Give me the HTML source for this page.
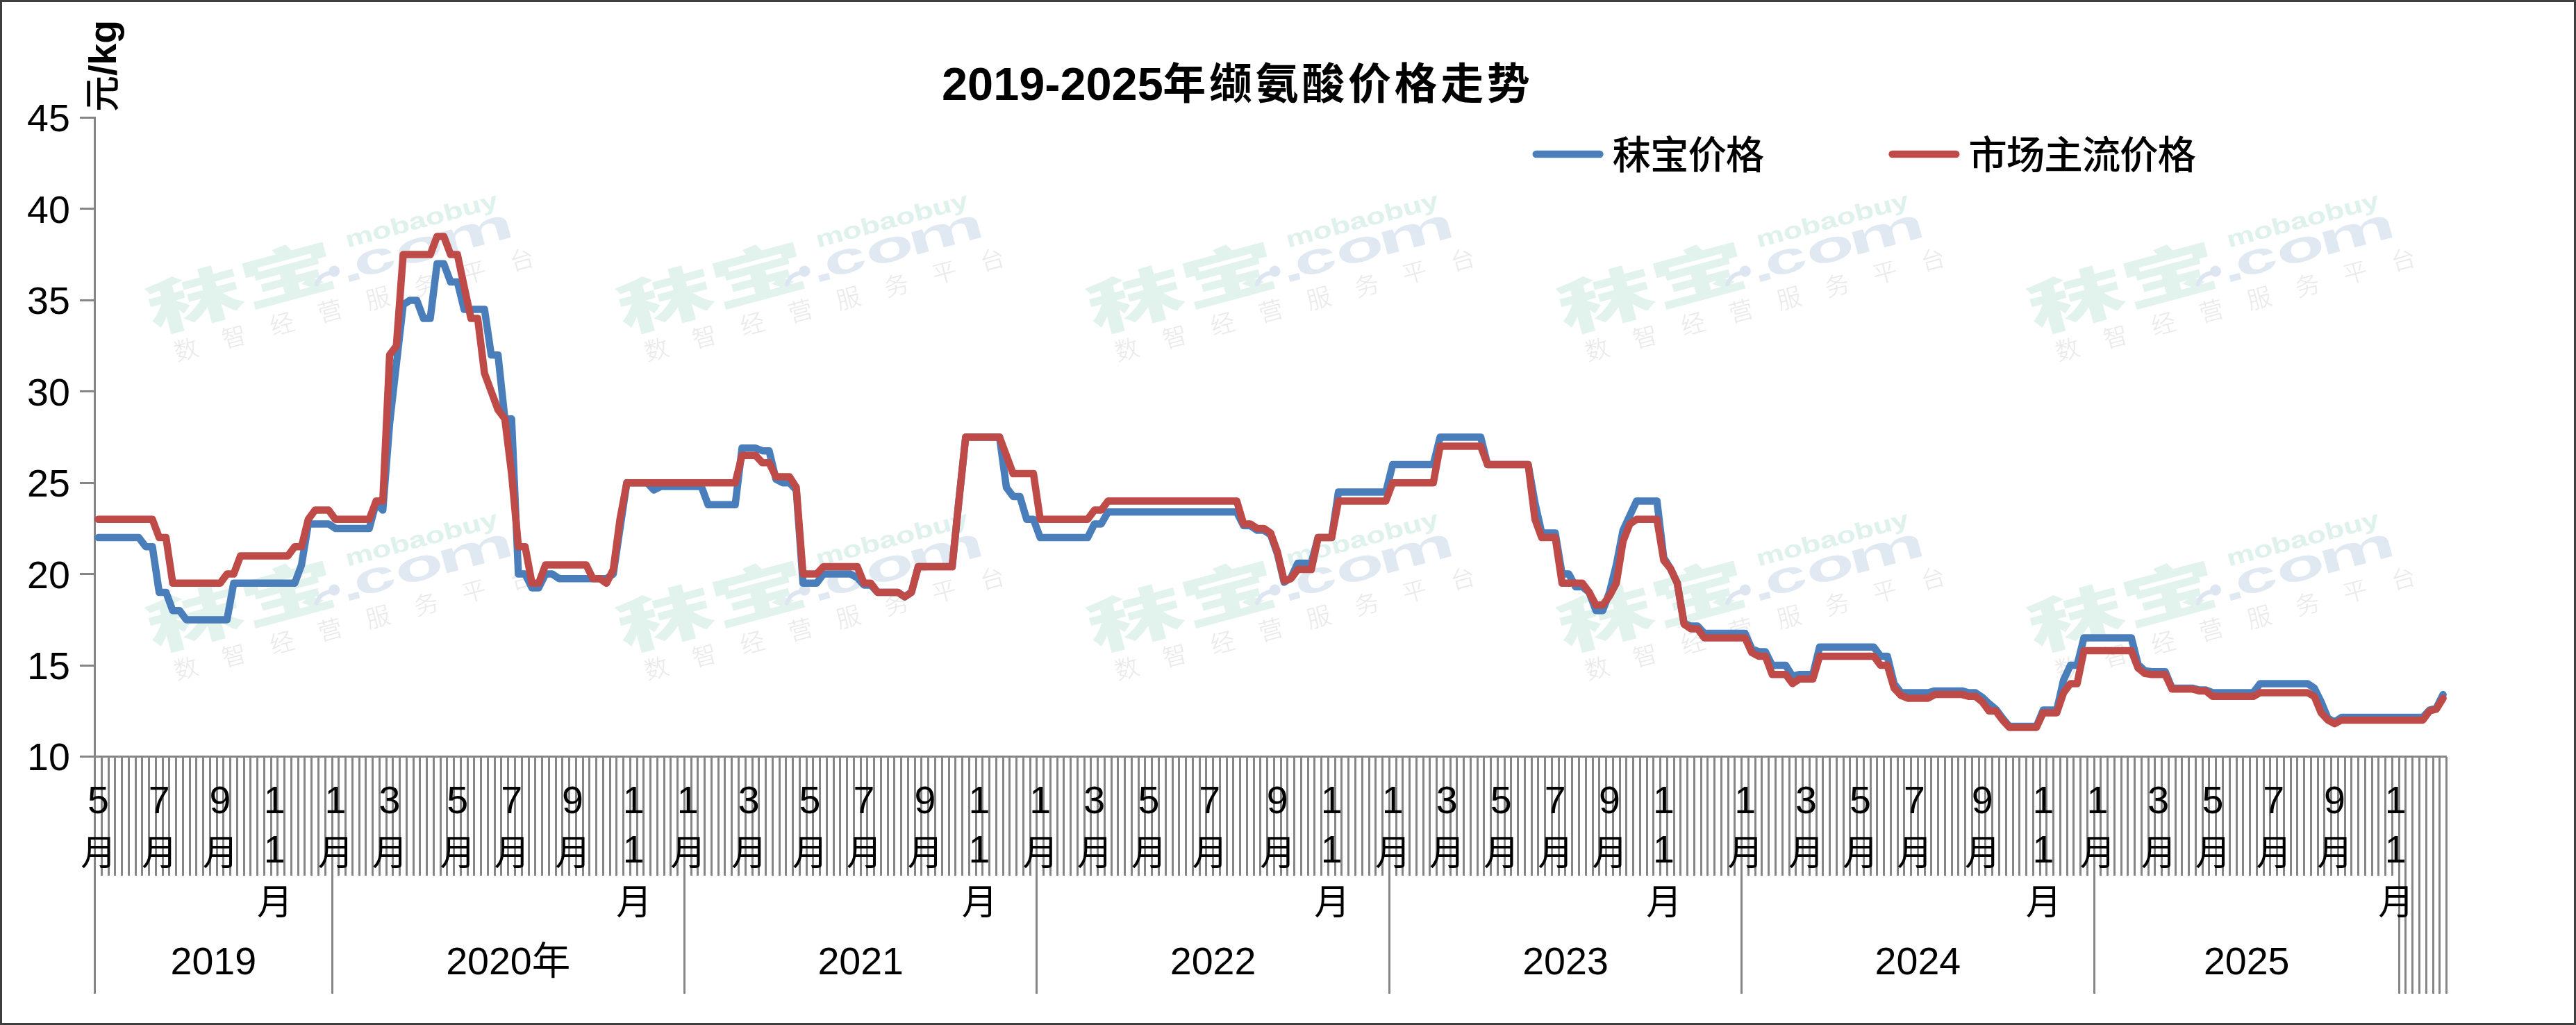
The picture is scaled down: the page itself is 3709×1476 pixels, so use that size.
<!DOCTYPE html>
<html lang="zh-CN">
<head>
<meta charset="utf-8">
<title>2019-2025年缬氨酸价格走势</title>
<style>
html,body{margin:0;padding:0;background:#fff;}
body{width:3709px;height:1476px;overflow:hidden;}
svg{display:block;}
text{white-space:pre;}
</style>
</head>
<body>
<svg width="3709" height="1476" viewBox="0 0 3709 1476">
<defs>
<g id="wmark">
 <text transform="translate(-8,225) scale(1.39,0.85)" font-size="100" font-weight="900" font-family='"Liberation Sans", "Noto Sans CJK SC", sans-serif' fill="#E2F3EE">秣宝</text>
 <circle cx="265.6" cy="206.4" r="8" fill="#DCE5F0"/>
 <path d="M236 218 Q246 204 262 208" stroke="#DCE5F0" stroke-width="6" fill="none" stroke-linecap="round"/>
 <text font-size="63" font-weight="bold" font-family='"Liberation Sans", sans-serif' fill="#E0E8F1"><tspan x="275.4" y="227" textLength="30.6" lengthAdjust="spacingAndGlyphs">.</tspan><tspan x="295.5" y="225" textLength="60.6" lengthAdjust="spacingAndGlyphs">c</tspan><tspan x="357.2" y="225" textLength="69.7" lengthAdjust="spacingAndGlyphs">o</tspan><tspan x="420" y="225" textLength="112" lengthAdjust="spacingAndGlyphs">m</tspan></text>
 <text x="293" y="178.7" font-size="33.5" font-weight="bold" font-family='"Liberation Sans", sans-serif' fill="#DEF1EC" textLength="226" lengthAdjust="spacingAndGlyphs">mobaobuy</text>
 <text y="273" font-size="35" font-weight="300" text-anchor="middle" font-family='"Liberation Sans", "Noto Sans CJK SC", sans-serif' fill="#E9E9E9"><tspan x="30.4">数</tspan><tspan x="101.9">智</tspan><tspan x="173.4">经</tspan><tspan x="244.9">营</tspan><tspan x="316.4">服</tspan><tspan x="387.9">务</tspan><tspan x="459.4">平</tspan><tspan x="530.9">台</tspan></text>
</g>
</defs>
<rect x="0" y="0" width="3709" height="1476" fill="#fff"/>
<g id="wm">
<use href="#wmark" transform="translate(171.2,260.0) rotate(-15)"/>
<use href="#wmark" transform="translate(848.4,260.0) rotate(-15)"/>
<use href="#wmark" transform="translate(1525.6,260.0) rotate(-15)"/>
<use href="#wmark" transform="translate(2202.8,260.0) rotate(-15)"/>
<use href="#wmark" transform="translate(2880.0,260.0) rotate(-15)"/>
<use href="#wmark" transform="translate(171.2,719.0) rotate(-15)"/>
<use href="#wmark" transform="translate(848.4,719.0) rotate(-15)"/>
<use href="#wmark" transform="translate(1525.6,719.0) rotate(-15)"/>
<use href="#wmark" transform="translate(2202.8,719.0) rotate(-15)"/>
<use href="#wmark" transform="translate(2880.0,719.0) rotate(-15)"/>
</g>
<g stroke="#868686" stroke-width="3" fill="none" shape-rendering="crispEdges">
<path d="M146.5 1090V1261.0M156.5 1090V1261.0M165.5 1090V1261.0M175.5 1090V1261.0M185.5 1090V1261.0M195.5 1090V1261.0M204.5 1090V1261.0M214.5 1090V1261.0M224.5 1090V1261.0M234.5 1090V1261.0M243.5 1090V1261.0M253.5 1090V1261.0M263.5 1090V1261.0M273.5 1090V1261.0M282.5 1090V1261.0M292.5 1090V1261.0M302.5 1090V1261.0M312.5 1090V1261.0M321.5 1090V1261.0M331.5 1090V1261.0M341.5 1090V1261.0M351.5 1090V1261.0M360.5 1090V1261.0M370.5 1090V1261.0M380.5 1090V1261.0M390.5 1090V1261.0M399.5 1090V1261.0M409.5 1090V1261.0M419.5 1090V1261.0M429.5 1090V1261.0M438.5 1090V1261.0M448.5 1090V1261.0M458.5 1090V1261.0M468.5 1090V1261.0M487.5 1090V1261.0M497.5 1090V1261.0M507.5 1090V1261.0M517.5 1090V1261.0M526.5 1090V1261.0M536.5 1090V1261.0M546.5 1090V1261.0M556.5 1090V1261.0M565.5 1090V1261.0M575.5 1090V1261.0M585.5 1090V1261.0M595.5 1090V1261.0M604.5 1090V1261.0M614.5 1090V1261.0M624.5 1090V1261.0M634.5 1090V1261.0M643.5 1090V1261.0M653.5 1090V1261.0M663.5 1090V1261.0M673.5 1090V1261.0M682.5 1090V1261.0M692.5 1090V1261.0M702.5 1090V1261.0M712.5 1090V1261.0M721.5 1090V1261.0M731.5 1090V1261.0M741.5 1090V1261.0M751.5 1090V1261.0M761.5 1090V1261.0M770.5 1090V1261.0M780.5 1090V1261.0M790.5 1090V1261.0M800.5 1090V1261.0M809.5 1090V1261.0M819.5 1090V1261.0M829.5 1090V1261.0M839.5 1090V1261.0M848.5 1090V1261.0M858.5 1090V1261.0M868.5 1090V1261.0M878.5 1090V1261.0M887.5 1090V1261.0M897.5 1090V1261.0M907.5 1090V1261.0M917.5 1090V1261.0M926.5 1090V1261.0M936.5 1090V1261.0M946.5 1090V1261.0M956.5 1090V1261.0M965.5 1090V1261.0M975.5 1090V1261.0M995.5 1090V1261.0M1004.5 1090V1261.0M1014.5 1090V1261.0M1024.5 1090V1261.0M1034.5 1090V1261.0M1043.5 1090V1261.0M1053.5 1090V1261.0M1063.5 1090V1261.0M1073.5 1090V1261.0M1083.5 1090V1261.0M1092.5 1090V1261.0M1102.5 1090V1261.0M1112.5 1090V1261.0M1122.5 1090V1261.0M1131.5 1090V1261.0M1141.5 1090V1261.0M1151.5 1090V1261.0M1161.5 1090V1261.0M1170.5 1090V1261.0M1180.5 1090V1261.0M1190.5 1090V1261.0M1200.5 1090V1261.0M1209.5 1090V1261.0M1219.5 1090V1261.0M1229.5 1090V1261.0M1239.5 1090V1261.0M1248.5 1090V1261.0M1258.5 1090V1261.0M1268.5 1090V1261.0M1278.5 1090V1261.0M1287.5 1090V1261.0M1297.5 1090V1261.0M1307.5 1090V1261.0M1317.5 1090V1261.0M1326.5 1090V1261.0M1336.5 1090V1261.0M1346.5 1090V1261.0M1356.5 1090V1261.0M1366.5 1090V1261.0M1375.5 1090V1261.0M1385.5 1090V1261.0M1395.5 1090V1261.0M1405.5 1090V1261.0M1414.5 1090V1261.0M1424.5 1090V1261.0M1434.5 1090V1261.0M1444.5 1090V1261.0M1453.5 1090V1261.0M1463.5 1090V1261.0M1473.5 1090V1261.0M1483.5 1090V1261.0M1502.5 1090V1261.0M1512.5 1090V1261.0M1522.5 1090V1261.0M1531.5 1090V1261.0M1541.5 1090V1261.0M1551.5 1090V1261.0M1561.5 1090V1261.0M1570.5 1090V1261.0M1580.5 1090V1261.0M1590.5 1090V1261.0M1600.5 1090V1261.0M1609.5 1090V1261.0M1619.5 1090V1261.0M1629.5 1090V1261.0M1639.5 1090V1261.0M1648.5 1090V1261.0M1658.5 1090V1261.0M1668.5 1090V1261.0M1678.5 1090V1261.0M1688.5 1090V1261.0M1697.5 1090V1261.0M1707.5 1090V1261.0M1717.5 1090V1261.0M1727.5 1090V1261.0M1736.5 1090V1261.0M1746.5 1090V1261.0M1756.5 1090V1261.0M1766.5 1090V1261.0M1775.5 1090V1261.0M1785.5 1090V1261.0M1795.5 1090V1261.0M1805.5 1090V1261.0M1814.5 1090V1261.0M1824.5 1090V1261.0M1834.5 1090V1261.0M1844.5 1090V1261.0M1853.5 1090V1261.0M1863.5 1090V1261.0M1873.5 1090V1261.0M1883.5 1090V1261.0M1892.5 1090V1261.0M1902.5 1090V1261.0M1912.5 1090V1261.0M1922.5 1090V1261.0M1931.5 1090V1261.0M1941.5 1090V1261.0M1951.5 1090V1261.0M1961.5 1090V1261.0M1971.5 1090V1261.0M1980.5 1090V1261.0M1990.5 1090V1261.0M2010.5 1090V1261.0M2019.5 1090V1261.0M2029.5 1090V1261.0M2039.5 1090V1261.0M2049.5 1090V1261.0M2058.5 1090V1261.0M2068.5 1090V1261.0M2078.5 1090V1261.0M2088.5 1090V1261.0M2097.5 1090V1261.0M2107.5 1090V1261.0M2117.5 1090V1261.0M2127.5 1090V1261.0M2136.5 1090V1261.0M2146.5 1090V1261.0M2156.5 1090V1261.0M2166.5 1090V1261.0M2175.5 1090V1261.0M2185.5 1090V1261.0M2195.5 1090V1261.0M2205.5 1090V1261.0M2214.5 1090V1261.0M2224.5 1090V1261.0M2234.5 1090V1261.0M2244.5 1090V1261.0M2253.5 1090V1261.0M2263.5 1090V1261.0M2273.5 1090V1261.0M2283.5 1090V1261.0M2293.5 1090V1261.0M2302.5 1090V1261.0M2312.5 1090V1261.0M2322.5 1090V1261.0M2332.5 1090V1261.0M2341.5 1090V1261.0M2351.5 1090V1261.0M2361.5 1090V1261.0M2371.5 1090V1261.0M2380.5 1090V1261.0M2390.5 1090V1261.0M2400.5 1090V1261.0M2410.5 1090V1261.0M2419.5 1090V1261.0M2429.5 1090V1261.0M2439.5 1090V1261.0M2449.5 1090V1261.0M2458.5 1090V1261.0M2468.5 1090V1261.0M2478.5 1090V1261.0M2488.5 1090V1261.0M2497.5 1090V1261.0M2517.5 1090V1261.0M2527.5 1090V1261.0M2536.5 1090V1261.0M2546.5 1090V1261.0M2556.5 1090V1261.0M2566.5 1090V1261.0M2576.5 1090V1261.0M2585.5 1090V1261.0M2595.5 1090V1261.0M2605.5 1090V1261.0M2615.5 1090V1261.0M2624.5 1090V1261.0M2634.5 1090V1261.0M2644.5 1090V1261.0M2654.5 1090V1261.0M2663.5 1090V1261.0M2673.5 1090V1261.0M2683.5 1090V1261.0M2693.5 1090V1261.0M2702.5 1090V1261.0M2712.5 1090V1261.0M2722.5 1090V1261.0M2732.5 1090V1261.0M2741.5 1090V1261.0M2751.5 1090V1261.0M2761.5 1090V1261.0M2771.5 1090V1261.0M2780.5 1090V1261.0M2790.5 1090V1261.0M2800.5 1090V1261.0M2810.5 1090V1261.0M2819.5 1090V1261.0M2829.5 1090V1261.0M2839.5 1090V1261.0M2849.5 1090V1261.0M2858.5 1090V1261.0M2868.5 1090V1261.0M2878.5 1090V1261.0M2888.5 1090V1261.0M2898.5 1090V1261.0M2907.5 1090V1261.0M2917.5 1090V1261.0M2927.5 1090V1261.0M2937.5 1090V1261.0M2946.5 1090V1261.0M2956.5 1090V1261.0M2966.5 1090V1261.0M2976.5 1090V1261.0M2985.5 1090V1261.0M2995.5 1090V1261.0M3005.5 1090V1261.0M3024.5 1090V1261.0M3034.5 1090V1261.0M3044.5 1090V1261.0M3054.5 1090V1261.0M3063.5 1090V1261.0M3073.5 1090V1261.0M3083.5 1090V1261.0M3093.5 1090V1261.0M3102.5 1090V1261.0M3112.5 1090V1261.0M3122.5 1090V1261.0M3132.5 1090V1261.0M3141.5 1090V1261.0M3151.5 1090V1261.0M3161.5 1090V1261.0M3171.5 1090V1261.0M3180.5 1090V1261.0M3190.5 1090V1261.0M3200.5 1090V1261.0M3210.5 1090V1261.0M3220.5 1090V1261.0M3229.5 1090V1261.0M3239.5 1090V1261.0M3249.5 1090V1261.0M3259.5 1090V1261.0M3268.5 1090V1261.0M3278.5 1090V1261.0M3288.5 1090V1261.0M3298.5 1090V1261.0M3307.5 1090V1261.0M3317.5 1090V1261.0M3327.5 1090V1261.0M3337.5 1090V1261.0M3346.5 1090V1261.0M3356.5 1090V1261.0M3366.5 1090V1261.0M3376.5 1090V1261.0M3385.5 1090V1261.0M3395.5 1090V1261.0M3405.5 1090V1261.0M3415.5 1090V1261.0M3424.5 1090V1261.0M3434.5 1090V1261.0M3444.5 1090V1261.0"/>
<path d="M136.5 1090V1431.0M478.5 1090V1431.0M985.5 1090V1431.0M1492.5 1090V1431.0M2000.5 1090V1431.0M2507.5 1090V1431.0M3015.5 1090V1431.0M3454.5 1090V1431.0M3463.5 1090V1431.0M3473.5 1090V1431.0M3483.5 1090V1431.0M3493.5 1090V1431.0M3503.5 1090V1431.0M3512.5 1090V1431.0M3522.5 1090V1431.0"/>
<path d="M136.5 168V1431.0"/>
<path d="M115 1089.5H3523"/>
<path d="M115 958.5H137"/>
<path d="M115 826.5H137"/>
<path d="M115 695.5H137"/>
<path d="M115 563.5H137"/>
<path d="M115 432.5H137"/>
<path d="M115 300.5H137"/>
<path d="M115 169.5H137"/>
</g>
<text x="100.9" y="1109.4" font-size="55.56" text-anchor="end" font-family='"Liberation Sans", "Noto Sans CJK SC", sans-serif' fill="#000">10</text>
<text x="100.9" y="978.0" font-size="55.56" text-anchor="end" font-family='"Liberation Sans", "Noto Sans CJK SC", sans-serif' fill="#000">15</text>
<text x="100.9" y="846.5" font-size="55.56" text-anchor="end" font-family='"Liberation Sans", "Noto Sans CJK SC", sans-serif' fill="#000">20</text>
<text x="100.9" y="715.1" font-size="55.56" text-anchor="end" font-family='"Liberation Sans", "Noto Sans CJK SC", sans-serif' fill="#000">25</text>
<text x="100.9" y="583.7" font-size="55.56" text-anchor="end" font-family='"Liberation Sans", "Noto Sans CJK SC", sans-serif' fill="#000">30</text>
<text x="100.9" y="452.3" font-size="55.56" text-anchor="end" font-family='"Liberation Sans", "Noto Sans CJK SC", sans-serif' fill="#000">35</text>
<text x="100.9" y="320.8" font-size="55.56" text-anchor="end" font-family='"Liberation Sans", "Noto Sans CJK SC", sans-serif' fill="#000">40</text>
<text x="100.9" y="189.4" font-size="55.56" text-anchor="end" font-family='"Liberation Sans", "Noto Sans CJK SC", sans-serif' fill="#000">45</text>
<polyline points="141.4,774.1 151.1,774.1 160.9,774.1 170.7,774.1 180.4,774.1 190.2,774.1 199.9,774.1 209.7,787.2 219.4,787.2 229.2,852.9 239.0,852.9 248.7,879.2 258.5,879.2 268.2,892.4 278.0,892.4 287.7,892.4 297.5,892.4 307.3,892.4 317.0,892.4 326.8,892.4 336.5,839.8 346.3,839.8 356.1,839.8 365.8,839.8 375.6,839.8 385.3,839.8 395.1,839.8 404.8,839.8 414.6,839.8 424.4,839.8 434.1,813.5 443.9,754.4 453.6,754.4 463.4,754.4 473.2,754.4 482.9,760.9 492.7,760.9 502.4,760.9 512.2,760.9 521.9,760.9 531.7,760.9 541.5,724.1 551.2,734.6 561.0,609.8 570.7,524.4 580.5,438.9 590.2,432.4 600.0,432.4 609.8,458.6 619.5,458.6 629.3,379.8 639.0,379.8 648.8,406.1 658.6,406.1 668.3,445.5 678.1,445.5 687.8,445.5 697.6,445.5 707.3,511.2 717.1,511.2 726.9,603.2 736.6,603.2 746.4,826.6 756.1,826.6 765.9,846.4 775.6,846.4 785.4,826.6 795.2,826.6 804.9,833.2 814.7,833.2 824.4,833.2 834.2,833.2 844.0,833.2 853.7,833.2 863.5,833.2 873.2,833.2 883.0,826.6 892.7,760.9 902.5,695.2 912.3,695.2 922.0,695.2 931.8,695.2 941.5,705.7 951.3,700.5 961.1,700.5 970.8,700.5 980.6,700.5 990.3,700.5 1000.1,700.5 1009.8,700.5 1019.6,726.8 1029.4,726.8 1039.1,726.8 1048.9,726.8 1058.6,726.8 1068.4,645.3 1078.1,645.3 1087.9,645.3 1097.7,649.2 1107.4,649.2 1117.2,690.0 1126.9,695.2 1136.7,695.2 1146.5,705.7 1156.2,839.8 1166.0,839.8 1175.7,839.8 1185.5,826.6 1195.2,826.6 1205.0,826.6 1214.8,826.6 1224.5,826.6 1234.3,831.9 1244.0,842.4 1253.8,842.4 1263.5,852.9 1273.3,852.9 1283.1,852.9 1292.8,852.9 1302.6,859.5 1312.3,852.9 1322.1,816.1 1331.9,816.1 1341.6,816.1 1351.4,816.1 1361.1,816.1 1370.9,816.1 1380.6,721.5 1390.4,629.5 1400.2,629.5 1409.9,629.5 1419.7,629.5 1429.4,629.5 1439.2,629.5 1449.0,701.8 1458.7,714.9 1468.5,714.9 1478.2,747.8 1488.0,747.8 1497.7,774.1 1507.5,774.1 1517.3,774.1 1527.0,774.1 1536.8,774.1 1546.5,774.1 1556.3,774.1 1566.0,774.1 1575.8,754.4 1585.6,754.4 1595.3,737.3 1605.1,737.3 1614.8,737.3 1624.6,737.3 1634.4,737.3 1644.1,737.3 1653.9,737.3 1663.6,737.3 1673.4,737.3 1683.1,737.3 1692.9,737.3 1702.7,737.3 1712.4,737.3 1722.2,737.3 1731.9,737.3 1741.7,737.3 1751.4,737.3 1761.2,737.3 1771.0,737.3 1780.7,737.3 1790.5,757.0 1800.2,757.0 1810.0,763.6 1819.8,763.6 1829.5,770.1 1839.3,797.7 1849.0,838.5 1858.8,831.9 1868.5,810.9 1878.3,810.9 1888.1,810.9 1897.8,774.1 1907.6,774.1 1917.3,774.1 1927.1,708.4 1936.9,708.4 1946.6,708.4 1956.4,708.4 1966.1,708.4 1975.9,708.4 1985.6,708.4 1995.4,708.4 2005.2,668.9 2014.9,668.9 2024.7,668.9 2034.4,668.9 2044.2,668.9 2053.9,668.9 2063.7,668.9 2073.5,629.5 2083.2,629.5 2093.0,629.5 2102.7,629.5 2112.5,629.5 2122.3,629.5 2132.0,629.5 2141.8,668.9 2151.5,668.9 2161.3,668.9 2171.0,668.9 2180.8,668.9 2190.6,668.9 2200.3,668.9 2210.1,724.1 2219.8,767.5 2229.6,767.5 2239.3,767.5 2249.1,826.6 2258.9,826.6 2268.6,845.0 2278.4,845.0 2288.1,852.9 2297.9,879.2 2307.7,879.2 2317.4,852.9 2327.2,813.5 2336.9,763.6 2346.7,742.5 2356.4,721.5 2366.2,721.5 2376.0,721.5 2385.7,721.5 2395.5,803.0 2405.2,818.8 2415.0,839.8 2424.8,897.6 2434.5,901.6 2444.3,901.6 2454.0,912.1 2463.8,912.1 2473.5,912.1 2483.3,912.1 2493.1,912.1 2502.8,912.1 2512.6,912.1 2522.3,934.4 2532.1,938.4 2541.8,938.4 2551.6,958.1 2561.4,958.1 2571.1,958.1 2580.9,973.8 2590.6,971.2 2600.4,971.2 2610.2,971.2 2619.9,931.8 2629.7,931.8 2639.4,931.8 2649.2,931.8 2658.9,931.8 2668.7,931.8 2678.5,931.8 2688.2,931.8 2698.0,931.8 2707.7,944.9 2717.5,944.9 2727.2,984.4 2737.0,997.5 2746.8,997.5 2756.5,997.5 2766.3,997.5 2776.0,997.5 2785.8,994.9 2795.6,994.9 2805.3,994.9 2815.1,994.9 2824.8,994.9 2834.6,997.5 2844.3,997.5 2854.1,1004.1 2863.9,1013.3 2873.6,1021.2 2883.4,1034.3 2893.1,1046.1 2902.9,1046.1 2912.7,1046.1 2922.4,1046.1 2932.2,1046.1 2941.9,1022.5 2951.7,1022.5 2961.4,1022.5 2971.2,979.1 2981.0,958.1 2990.7,958.1 3000.5,918.6 3010.2,918.6 3020.0,918.6 3029.7,918.6 3039.5,918.6 3049.3,918.6 3059.0,918.6 3068.8,918.6 3078.5,956.8 3088.3,966.0 3098.1,967.3 3107.8,967.3 3117.6,967.3 3127.3,990.9 3137.1,990.9 3146.8,990.9 3156.6,990.9 3166.4,993.6 3176.1,993.6 3185.9,997.5 3195.6,997.5 3205.4,997.5 3215.1,997.5 3224.9,997.5 3234.7,997.5 3244.4,997.5 3254.2,984.4 3263.9,984.4 3273.7,984.4 3283.5,984.4 3293.2,984.4 3303.0,984.4 3312.7,984.4 3322.5,984.4 3332.2,990.9 3342.0,1010.6 3351.8,1034.3 3361.5,1039.6 3371.3,1033.0 3381.0,1033.0 3390.8,1033.0 3400.6,1033.0 3410.3,1033.0 3420.1,1033.0 3429.8,1033.0 3439.6,1033.0 3449.3,1033.0 3459.1,1033.0 3468.9,1033.0 3478.6,1033.0 3488.4,1033.0 3498.1,1022.5 3507.9,1019.8 3517.6,1000.1" fill="none" stroke="#4A7EBB" stroke-width="10.5" stroke-linejoin="round" stroke-linecap="round"/>
<polyline points="141.4,747.8 151.1,747.8 160.9,747.8 170.7,747.8 180.4,747.8 190.2,747.8 199.9,747.8 209.7,747.8 219.4,747.8 229.2,774.1 239.0,774.1 248.7,839.8 258.5,839.8 268.2,839.8 278.0,839.8 287.7,839.8 297.5,839.8 307.3,839.8 317.0,839.8 326.8,826.6 336.5,826.6 346.3,800.4 356.1,800.4 365.8,800.4 375.6,800.4 385.3,800.4 395.1,800.4 404.8,800.4 414.6,800.4 424.4,787.2 434.1,787.2 443.9,747.8 453.6,734.6 463.4,734.6 473.2,734.6 482.9,747.8 492.7,747.8 502.4,747.8 512.2,747.8 521.9,747.8 531.7,747.8 541.5,721.5 551.2,721.5 561.0,511.2 570.7,498.1 580.5,366.6 590.2,366.6 600.0,366.6 609.8,366.6 619.5,366.6 629.3,340.4 639.0,340.4 648.8,366.6 658.6,366.6 668.3,412.6 678.1,458.6 687.8,458.6 697.6,537.5 707.3,563.8 717.1,590.1 726.9,603.2 736.6,682.1 746.4,787.2 756.1,787.2 765.9,839.8 775.6,839.8 785.4,813.5 795.2,813.5 804.9,813.5 814.7,813.5 824.4,813.5 834.2,813.5 844.0,813.5 853.7,833.2 863.5,833.2 873.2,839.8 883.0,820.1 892.7,747.8 902.5,695.2 912.3,695.2 922.0,695.2 931.8,695.2 941.5,695.2 951.3,695.2 961.1,695.2 970.8,695.2 980.6,695.2 990.3,695.2 1000.1,695.2 1009.8,695.2 1019.6,695.2 1029.4,695.2 1039.1,695.2 1048.9,695.2 1058.6,695.2 1068.4,655.8 1078.1,655.8 1087.9,655.8 1097.7,666.3 1107.4,666.3 1117.2,686.5 1126.9,686.5 1136.7,686.5 1146.5,701.8 1156.2,826.6 1166.0,826.6 1175.7,826.6 1185.5,816.1 1195.2,816.1 1205.0,816.1 1214.8,816.1 1224.5,816.1 1234.3,816.1 1244.0,839.8 1253.8,839.8 1263.5,852.9 1273.3,852.9 1283.1,852.9 1292.8,852.9 1302.6,859.5 1312.3,852.9 1322.1,816.1 1331.9,816.1 1341.6,816.1 1351.4,816.1 1361.1,816.1 1370.9,816.1 1380.6,721.5 1390.4,629.5 1400.2,629.5 1409.9,629.5 1419.7,629.5 1429.4,629.5 1439.2,629.5 1449.0,655.8 1458.7,682.1 1468.5,682.1 1478.2,682.1 1488.0,682.1 1497.7,747.8 1507.5,747.8 1517.3,747.8 1527.0,747.8 1536.8,747.8 1546.5,747.8 1556.3,747.8 1566.0,747.8 1575.8,734.6 1585.6,734.6 1595.3,721.5 1605.1,721.5 1614.8,721.5 1624.6,721.5 1634.4,721.5 1644.1,721.5 1653.9,721.5 1663.6,721.5 1673.4,721.5 1683.1,721.5 1692.9,721.5 1702.7,721.5 1712.4,721.5 1722.2,721.5 1731.9,721.5 1741.7,721.5 1751.4,721.5 1761.2,721.5 1771.0,721.5 1780.7,721.5 1790.5,754.4 1800.2,754.4 1810.0,760.9 1819.8,760.9 1829.5,767.5 1839.3,795.1 1849.0,836.6 1858.8,833.2 1868.5,820.1 1878.3,820.1 1888.1,820.1 1897.8,774.1 1907.6,774.1 1917.3,774.1 1927.1,721.5 1936.9,721.5 1946.6,721.5 1956.4,721.5 1966.1,721.5 1975.9,721.5 1985.6,721.5 1995.4,721.5 2005.2,695.2 2014.9,695.2 2024.7,695.2 2034.4,695.2 2044.2,695.2 2053.9,695.2 2063.7,695.2 2073.5,642.6 2083.2,642.6 2093.0,642.6 2102.7,642.6 2112.5,642.6 2122.3,642.6 2132.0,642.6 2141.8,668.9 2151.5,668.9 2161.3,668.9 2171.0,668.9 2180.8,668.9 2190.6,668.9 2200.3,668.9 2210.1,747.8 2219.8,774.1 2229.6,774.1 2239.3,774.1 2249.1,839.8 2258.9,839.8 2268.6,839.8 2278.4,839.8 2288.1,852.9 2297.9,871.3 2307.7,871.3 2317.4,858.2 2327.2,839.8 2336.9,779.3 2346.7,754.4 2356.4,747.8 2366.2,747.8 2376.0,747.8 2385.7,747.8 2395.5,806.9 2405.2,818.8 2415.0,839.8 2424.8,898.9 2434.5,905.5 2444.3,905.5 2454.0,918.6 2463.8,918.6 2473.5,918.6 2483.3,918.6 2493.1,918.6 2502.8,918.6 2512.6,918.6 2522.3,939.7 2532.1,944.9 2541.8,944.9 2551.6,971.2 2561.4,971.2 2571.1,971.2 2580.9,984.4 2590.6,977.8 2600.4,977.8 2610.2,977.8 2619.9,944.9 2629.7,944.9 2639.4,944.9 2649.2,944.9 2658.9,944.9 2668.7,944.9 2678.5,944.9 2688.2,944.9 2698.0,944.9 2707.7,958.1 2717.5,958.1 2727.2,990.9 2737.0,1001.4 2746.8,1005.4 2756.5,1005.4 2766.3,1005.4 2776.0,1005.4 2785.8,1000.1 2795.6,1000.1 2805.3,1000.1 2815.1,1000.1 2824.8,1000.1 2834.6,1002.8 2844.3,1002.8 2854.1,1010.6 2863.9,1023.8 2873.6,1023.8 2883.4,1036.9 2893.1,1047.4 2902.9,1047.4 2912.7,1047.4 2922.4,1047.4 2932.2,1047.4 2941.9,1026.4 2951.7,1026.4 2961.4,1026.4 2971.2,997.5 2981.0,984.4 2990.7,984.4 3000.5,937.0 3010.2,937.0 3020.0,937.0 3029.7,937.0 3039.5,937.0 3049.3,937.0 3059.0,937.0 3068.8,937.0 3078.5,962.0 3088.3,969.9 3098.1,971.2 3107.8,971.2 3117.6,971.2 3127.3,992.2 3137.1,992.2 3146.8,992.2 3156.6,992.2 3166.4,994.9 3176.1,994.9 3185.9,1002.8 3195.6,1002.8 3205.4,1002.8 3215.1,1002.8 3224.9,1002.8 3234.7,1002.8 3244.4,1002.8 3254.2,997.5 3263.9,997.5 3273.7,997.5 3283.5,997.5 3293.2,997.5 3303.0,997.5 3312.7,997.5 3322.5,997.5 3332.2,1002.8 3342.0,1026.4 3351.8,1036.9 3361.5,1042.2 3371.3,1036.9 3381.0,1036.9 3390.8,1036.9 3400.6,1036.9 3410.3,1036.9 3420.1,1036.9 3429.8,1036.9 3439.6,1036.9 3449.3,1036.9 3459.1,1036.9 3468.9,1036.9 3478.6,1036.9 3488.4,1036.9 3498.1,1023.8 3507.9,1021.2 3517.6,1005.4" fill="none" stroke="#BE4B48" stroke-width="10.5" stroke-linejoin="round" stroke-linecap="round"/>
<text x="141.4" y="1170.6" font-size="55.56" text-anchor="middle" font-family='"Liberation Sans", "Noto Sans CJK SC", sans-serif' fill="#000">5</text>
<text x="142.0" y="1245.9" font-size="51.5" text-anchor="middle" font-family='"Liberation Sans", "Noto Sans CJK SC", sans-serif' fill="#000">月</text>
<text x="229.2" y="1170.6" font-size="55.56" text-anchor="middle" font-family='"Liberation Sans", "Noto Sans CJK SC", sans-serif' fill="#000">7</text>
<text x="229.8" y="1245.9" font-size="51.5" text-anchor="middle" font-family='"Liberation Sans", "Noto Sans CJK SC", sans-serif' fill="#000">月</text>
<text x="317.0" y="1170.6" font-size="55.56" text-anchor="middle" font-family='"Liberation Sans", "Noto Sans CJK SC", sans-serif' fill="#000">9</text>
<text x="317.6" y="1245.9" font-size="51.5" text-anchor="middle" font-family='"Liberation Sans", "Noto Sans CJK SC", sans-serif' fill="#000">月</text>
<text x="395.1" y="1170.6" font-size="55.56" text-anchor="middle" font-family='"Liberation Sans", "Noto Sans CJK SC", sans-serif' fill="#000">1</text>
<text x="395.1" y="1242.0" font-size="55.56" text-anchor="middle" font-family='"Liberation Sans", "Noto Sans CJK SC", sans-serif' fill="#000">1</text>
<text x="395.7" y="1317.3" font-size="51.5" text-anchor="middle" font-family='"Liberation Sans", "Noto Sans CJK SC", sans-serif' fill="#000">月</text>
<text x="482.9" y="1170.6" font-size="55.56" text-anchor="middle" font-family='"Liberation Sans", "Noto Sans CJK SC", sans-serif' fill="#000">1</text>
<text x="483.5" y="1245.9" font-size="51.5" text-anchor="middle" font-family='"Liberation Sans", "Noto Sans CJK SC", sans-serif' fill="#000">月</text>
<text x="561.0" y="1170.6" font-size="55.56" text-anchor="middle" font-family='"Liberation Sans", "Noto Sans CJK SC", sans-serif' fill="#000">3</text>
<text x="561.6" y="1245.9" font-size="51.5" text-anchor="middle" font-family='"Liberation Sans", "Noto Sans CJK SC", sans-serif' fill="#000">月</text>
<text x="658.6" y="1170.6" font-size="55.56" text-anchor="middle" font-family='"Liberation Sans", "Noto Sans CJK SC", sans-serif' fill="#000">5</text>
<text x="659.2" y="1245.9" font-size="51.5" text-anchor="middle" font-family='"Liberation Sans", "Noto Sans CJK SC", sans-serif' fill="#000">月</text>
<text x="736.6" y="1170.6" font-size="55.56" text-anchor="middle" font-family='"Liberation Sans", "Noto Sans CJK SC", sans-serif' fill="#000">7</text>
<text x="737.2" y="1245.9" font-size="51.5" text-anchor="middle" font-family='"Liberation Sans", "Noto Sans CJK SC", sans-serif' fill="#000">月</text>
<text x="824.4" y="1170.6" font-size="55.56" text-anchor="middle" font-family='"Liberation Sans", "Noto Sans CJK SC", sans-serif' fill="#000">9</text>
<text x="825.0" y="1245.9" font-size="51.5" text-anchor="middle" font-family='"Liberation Sans", "Noto Sans CJK SC", sans-serif' fill="#000">月</text>
<text x="912.3" y="1170.6" font-size="55.56" text-anchor="middle" font-family='"Liberation Sans", "Noto Sans CJK SC", sans-serif' fill="#000">1</text>
<text x="912.3" y="1242.0" font-size="55.56" text-anchor="middle" font-family='"Liberation Sans", "Noto Sans CJK SC", sans-serif' fill="#000">1</text>
<text x="912.9" y="1317.3" font-size="51.5" text-anchor="middle" font-family='"Liberation Sans", "Noto Sans CJK SC", sans-serif' fill="#000">月</text>
<text x="990.3" y="1170.6" font-size="55.56" text-anchor="middle" font-family='"Liberation Sans", "Noto Sans CJK SC", sans-serif' fill="#000">1</text>
<text x="990.9" y="1245.9" font-size="51.5" text-anchor="middle" font-family='"Liberation Sans", "Noto Sans CJK SC", sans-serif' fill="#000">月</text>
<text x="1078.1" y="1170.6" font-size="55.56" text-anchor="middle" font-family='"Liberation Sans", "Noto Sans CJK SC", sans-serif' fill="#000">3</text>
<text x="1078.7" y="1245.9" font-size="51.5" text-anchor="middle" font-family='"Liberation Sans", "Noto Sans CJK SC", sans-serif' fill="#000">月</text>
<text x="1166.0" y="1170.6" font-size="55.56" text-anchor="middle" font-family='"Liberation Sans", "Noto Sans CJK SC", sans-serif' fill="#000">5</text>
<text x="1166.6" y="1245.9" font-size="51.5" text-anchor="middle" font-family='"Liberation Sans", "Noto Sans CJK SC", sans-serif' fill="#000">月</text>
<text x="1244.0" y="1170.6" font-size="55.56" text-anchor="middle" font-family='"Liberation Sans", "Noto Sans CJK SC", sans-serif' fill="#000">7</text>
<text x="1244.6" y="1245.9" font-size="51.5" text-anchor="middle" font-family='"Liberation Sans", "Noto Sans CJK SC", sans-serif' fill="#000">月</text>
<text x="1331.9" y="1170.6" font-size="55.56" text-anchor="middle" font-family='"Liberation Sans", "Noto Sans CJK SC", sans-serif' fill="#000">9</text>
<text x="1332.5" y="1245.9" font-size="51.5" text-anchor="middle" font-family='"Liberation Sans", "Noto Sans CJK SC", sans-serif' fill="#000">月</text>
<text x="1409.9" y="1170.6" font-size="55.56" text-anchor="middle" font-family='"Liberation Sans", "Noto Sans CJK SC", sans-serif' fill="#000">1</text>
<text x="1409.9" y="1242.0" font-size="55.56" text-anchor="middle" font-family='"Liberation Sans", "Noto Sans CJK SC", sans-serif' fill="#000">1</text>
<text x="1410.5" y="1317.3" font-size="51.5" text-anchor="middle" font-family='"Liberation Sans", "Noto Sans CJK SC", sans-serif' fill="#000">月</text>
<text x="1497.7" y="1170.6" font-size="55.56" text-anchor="middle" font-family='"Liberation Sans", "Noto Sans CJK SC", sans-serif' fill="#000">1</text>
<text x="1498.3" y="1245.9" font-size="51.5" text-anchor="middle" font-family='"Liberation Sans", "Noto Sans CJK SC", sans-serif' fill="#000">月</text>
<text x="1575.8" y="1170.6" font-size="55.56" text-anchor="middle" font-family='"Liberation Sans", "Noto Sans CJK SC", sans-serif' fill="#000">3</text>
<text x="1576.4" y="1245.9" font-size="51.5" text-anchor="middle" font-family='"Liberation Sans", "Noto Sans CJK SC", sans-serif' fill="#000">月</text>
<text x="1653.9" y="1170.6" font-size="55.56" text-anchor="middle" font-family='"Liberation Sans", "Noto Sans CJK SC", sans-serif' fill="#000">5</text>
<text x="1654.5" y="1245.9" font-size="51.5" text-anchor="middle" font-family='"Liberation Sans", "Noto Sans CJK SC", sans-serif' fill="#000">月</text>
<text x="1741.7" y="1170.6" font-size="55.56" text-anchor="middle" font-family='"Liberation Sans", "Noto Sans CJK SC", sans-serif' fill="#000">7</text>
<text x="1742.3" y="1245.9" font-size="51.5" text-anchor="middle" font-family='"Liberation Sans", "Noto Sans CJK SC", sans-serif' fill="#000">月</text>
<text x="1839.3" y="1170.6" font-size="55.56" text-anchor="middle" font-family='"Liberation Sans", "Noto Sans CJK SC", sans-serif' fill="#000">9</text>
<text x="1839.9" y="1245.9" font-size="51.5" text-anchor="middle" font-family='"Liberation Sans", "Noto Sans CJK SC", sans-serif' fill="#000">月</text>
<text x="1917.3" y="1170.6" font-size="55.56" text-anchor="middle" font-family='"Liberation Sans", "Noto Sans CJK SC", sans-serif' fill="#000">1</text>
<text x="1917.3" y="1242.0" font-size="55.56" text-anchor="middle" font-family='"Liberation Sans", "Noto Sans CJK SC", sans-serif' fill="#000">1</text>
<text x="1917.9" y="1317.3" font-size="51.5" text-anchor="middle" font-family='"Liberation Sans", "Noto Sans CJK SC", sans-serif' fill="#000">月</text>
<text x="2005.2" y="1170.6" font-size="55.56" text-anchor="middle" font-family='"Liberation Sans", "Noto Sans CJK SC", sans-serif' fill="#000">1</text>
<text x="2005.8" y="1245.9" font-size="51.5" text-anchor="middle" font-family='"Liberation Sans", "Noto Sans CJK SC", sans-serif' fill="#000">月</text>
<text x="2083.2" y="1170.6" font-size="55.56" text-anchor="middle" font-family='"Liberation Sans", "Noto Sans CJK SC", sans-serif' fill="#000">3</text>
<text x="2083.8" y="1245.9" font-size="51.5" text-anchor="middle" font-family='"Liberation Sans", "Noto Sans CJK SC", sans-serif' fill="#000">月</text>
<text x="2161.3" y="1170.6" font-size="55.56" text-anchor="middle" font-family='"Liberation Sans", "Noto Sans CJK SC", sans-serif' fill="#000">5</text>
<text x="2161.9" y="1245.9" font-size="51.5" text-anchor="middle" font-family='"Liberation Sans", "Noto Sans CJK SC", sans-serif' fill="#000">月</text>
<text x="2239.3" y="1170.6" font-size="55.56" text-anchor="middle" font-family='"Liberation Sans", "Noto Sans CJK SC", sans-serif' fill="#000">7</text>
<text x="2239.9" y="1245.9" font-size="51.5" text-anchor="middle" font-family='"Liberation Sans", "Noto Sans CJK SC", sans-serif' fill="#000">月</text>
<text x="2317.4" y="1170.6" font-size="55.56" text-anchor="middle" font-family='"Liberation Sans", "Noto Sans CJK SC", sans-serif' fill="#000">9</text>
<text x="2318.0" y="1245.9" font-size="51.5" text-anchor="middle" font-family='"Liberation Sans", "Noto Sans CJK SC", sans-serif' fill="#000">月</text>
<text x="2395.5" y="1170.6" font-size="55.56" text-anchor="middle" font-family='"Liberation Sans", "Noto Sans CJK SC", sans-serif' fill="#000">1</text>
<text x="2395.5" y="1242.0" font-size="55.56" text-anchor="middle" font-family='"Liberation Sans", "Noto Sans CJK SC", sans-serif' fill="#000">1</text>
<text x="2396.1" y="1317.3" font-size="51.5" text-anchor="middle" font-family='"Liberation Sans", "Noto Sans CJK SC", sans-serif' fill="#000">月</text>
<text x="2512.6" y="1170.6" font-size="55.56" text-anchor="middle" font-family='"Liberation Sans", "Noto Sans CJK SC", sans-serif' fill="#000">1</text>
<text x="2513.2" y="1245.9" font-size="51.5" text-anchor="middle" font-family='"Liberation Sans", "Noto Sans CJK SC", sans-serif' fill="#000">月</text>
<text x="2600.4" y="1170.6" font-size="55.56" text-anchor="middle" font-family='"Liberation Sans", "Noto Sans CJK SC", sans-serif' fill="#000">3</text>
<text x="2601.0" y="1245.9" font-size="51.5" text-anchor="middle" font-family='"Liberation Sans", "Noto Sans CJK SC", sans-serif' fill="#000">月</text>
<text x="2678.5" y="1170.6" font-size="55.56" text-anchor="middle" font-family='"Liberation Sans", "Noto Sans CJK SC", sans-serif' fill="#000">5</text>
<text x="2679.1" y="1245.9" font-size="51.5" text-anchor="middle" font-family='"Liberation Sans", "Noto Sans CJK SC", sans-serif' fill="#000">月</text>
<text x="2756.5" y="1170.6" font-size="55.56" text-anchor="middle" font-family='"Liberation Sans", "Noto Sans CJK SC", sans-serif' fill="#000">7</text>
<text x="2757.1" y="1245.9" font-size="51.5" text-anchor="middle" font-family='"Liberation Sans", "Noto Sans CJK SC", sans-serif' fill="#000">月</text>
<text x="2854.1" y="1170.6" font-size="55.56" text-anchor="middle" font-family='"Liberation Sans", "Noto Sans CJK SC", sans-serif' fill="#000">9</text>
<text x="2854.7" y="1245.9" font-size="51.5" text-anchor="middle" font-family='"Liberation Sans", "Noto Sans CJK SC", sans-serif' fill="#000">月</text>
<text x="2941.9" y="1170.6" font-size="55.56" text-anchor="middle" font-family='"Liberation Sans", "Noto Sans CJK SC", sans-serif' fill="#000">1</text>
<text x="2941.9" y="1242.0" font-size="55.56" text-anchor="middle" font-family='"Liberation Sans", "Noto Sans CJK SC", sans-serif' fill="#000">1</text>
<text x="2942.5" y="1317.3" font-size="51.5" text-anchor="middle" font-family='"Liberation Sans", "Noto Sans CJK SC", sans-serif' fill="#000">月</text>
<text x="3020.0" y="1170.6" font-size="55.56" text-anchor="middle" font-family='"Liberation Sans", "Noto Sans CJK SC", sans-serif' fill="#000">1</text>
<text x="3020.6" y="1245.9" font-size="51.5" text-anchor="middle" font-family='"Liberation Sans", "Noto Sans CJK SC", sans-serif' fill="#000">月</text>
<text x="3107.8" y="1170.6" font-size="55.56" text-anchor="middle" font-family='"Liberation Sans", "Noto Sans CJK SC", sans-serif' fill="#000">3</text>
<text x="3108.4" y="1245.9" font-size="51.5" text-anchor="middle" font-family='"Liberation Sans", "Noto Sans CJK SC", sans-serif' fill="#000">月</text>
<text x="3185.9" y="1170.6" font-size="55.56" text-anchor="middle" font-family='"Liberation Sans", "Noto Sans CJK SC", sans-serif' fill="#000">5</text>
<text x="3186.5" y="1245.9" font-size="51.5" text-anchor="middle" font-family='"Liberation Sans", "Noto Sans CJK SC", sans-serif' fill="#000">月</text>
<text x="3273.7" y="1170.6" font-size="55.56" text-anchor="middle" font-family='"Liberation Sans", "Noto Sans CJK SC", sans-serif' fill="#000">7</text>
<text x="3274.3" y="1245.9" font-size="51.5" text-anchor="middle" font-family='"Liberation Sans", "Noto Sans CJK SC", sans-serif' fill="#000">月</text>
<text x="3361.5" y="1170.6" font-size="55.56" text-anchor="middle" font-family='"Liberation Sans", "Noto Sans CJK SC", sans-serif' fill="#000">9</text>
<text x="3362.1" y="1245.9" font-size="51.5" text-anchor="middle" font-family='"Liberation Sans", "Noto Sans CJK SC", sans-serif' fill="#000">月</text>
<text x="3449.3" y="1170.6" font-size="55.56" text-anchor="middle" font-family='"Liberation Sans", "Noto Sans CJK SC", sans-serif' fill="#000">1</text>
<text x="3449.3" y="1242.0" font-size="55.56" text-anchor="middle" font-family='"Liberation Sans", "Noto Sans CJK SC", sans-serif' fill="#000">1</text>
<text x="3449.9" y="1317.3" font-size="51.5" text-anchor="middle" font-family='"Liberation Sans", "Noto Sans CJK SC", sans-serif' fill="#000">月</text>
<text x="307.3" y="1402.8" font-size="55.56" text-anchor="middle" font-family='"Liberation Sans", "Noto Sans CJK SC", sans-serif' fill="#000">2019</text>
<text x="731.7" y="1402.8" font-size="55.56" text-anchor="middle" font-family='"Liberation Sans", "Noto Sans CJK SC", sans-serif' fill="#000">2020年</text>
<text x="1239.2" y="1402.8" font-size="55.56" text-anchor="middle" font-family='"Liberation Sans", "Noto Sans CJK SC", sans-serif' fill="#000">2021</text>
<text x="1746.6" y="1402.8" font-size="55.56" text-anchor="middle" font-family='"Liberation Sans", "Noto Sans CJK SC", sans-serif' fill="#000">2022</text>
<text x="2254.0" y="1402.8" font-size="55.56" text-anchor="middle" font-family='"Liberation Sans", "Noto Sans CJK SC", sans-serif' fill="#000">2023</text>
<text x="2761.4" y="1402.8" font-size="55.56" text-anchor="middle" font-family='"Liberation Sans", "Noto Sans CJK SC", sans-serif' fill="#000">2024</text>
<text x="3234.7" y="1402.8" font-size="55.56" text-anchor="middle" font-family='"Liberation Sans", "Noto Sans CJK SC", sans-serif' fill="#000">2025</text>
<text x="1356" y="143.6" font-size="66.67" font-weight="bold" font-family='"Liberation Sans", "Noto Sans CJK SC", sans-serif' fill="#000">2019-2025<tspan x="1674.3" font-size="62" letter-spacing="4.65" dy="-0.8">年缬氨酸价格走势</tspan></text>
<text transform="translate(167,161) rotate(-90)" font-size="55.56" font-weight="bold" font-family='"Liberation Sans", "Noto Sans CJK SC", sans-serif' fill="#000"><tspan font-size="52" font-weight="500" dy="-1.5">元</tspan><tspan dy="1.5">/kg</tspan></text>
<path d="M2211.8 222H2303.4" stroke="#4A7EBB" stroke-width="10.6" stroke-linecap="round"/>
<text x="2321.5" y="242.6" font-size="55.56" font-weight="500" letter-spacing="-1.1" font-family='"Liberation Sans", "Noto Sans CJK SC", sans-serif' fill="#000">秣宝价格</text>
<path d="M2724.6 222H2816.2" stroke="#BE4B48" stroke-width="10.6" stroke-linecap="round"/>
<text x="2834.3" y="242.6" font-size="55.56" font-weight="500" letter-spacing="-1.1" font-family='"Liberation Sans", "Noto Sans CJK SC", sans-serif' fill="#000">市场主流价格</text>
<rect x="1.5" y="1.5" width="3706" height="1473" fill="none" stroke="#3f3f3f" stroke-width="3"/>
</svg>
</body>
</html>
